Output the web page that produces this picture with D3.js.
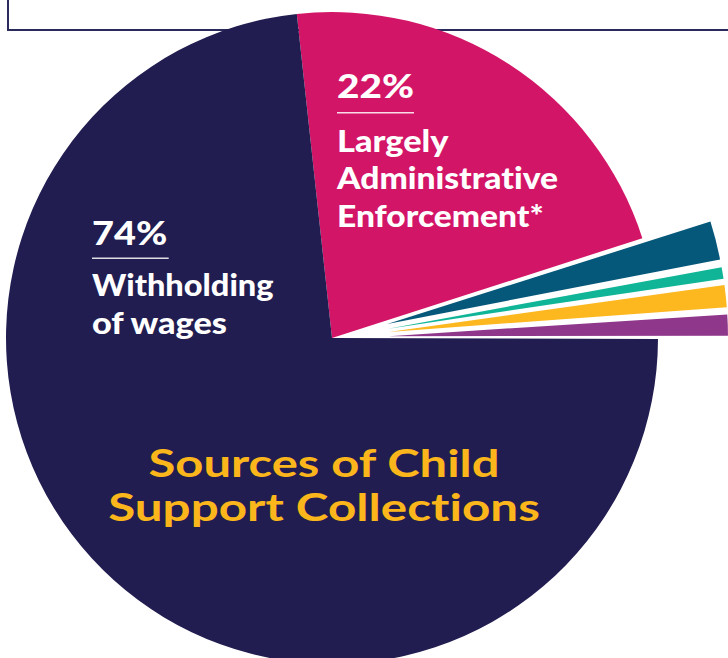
<!DOCTYPE html>
<html>
<head>
<meta charset="utf-8">
<script src="https://cdn.jsdelivr.net/npm/d3@7"></script>
<style>
  html, body { margin: 0; padding: 0; background: #ffffff; }
  svg { display: block; }
  text { font-family: Lato, "Noto Sans", sans-serif; font-weight: 900; font-variant-ligatures: none; font-feature-settings: "liga" 0, "clig" 0; }
  text.title { font-weight: 700; }
</style>
</head>
<body>
<svg id="chart" width="728" height="658"></svg>
<script>
// ---- data ----
const categories = ["Largely Administrative Enforcement*", "Other source A", "Other source B", "Other source C", "Other source D", "Withholding of wages"];
const shares = [22, 2.0, 0.7, 1.2, 1.15, 74];
const sliceColors = ["#d31567", "#06587a", "#10b598", "#fdb71f", "#8f378b", "#211d50"];
const pctLabels = ["22%", "74%"];
const labelLines = [["Largely", "Administrative", "Enforcement*"], ["Withholding", "of wages"]];
const titleLines = ["Sources of Child", "Support Collections"];

// ---- layout ----
const W = 728, H = 658;
const cx = 332, cy = 338, R = 326;
const smallR = 339, explode = 57, smallPad = 0.5 * Math.PI / 180;
const startDeg = -6.2;

const svg = d3.select("#chart");

// header box
svg.append("rect")
  .attr("x", 8).attr("y", -10).attr("width", W + 10).attr("height", 40)
  .attr("fill", "#ffffff").attr("stroke", "#2b2a5d").attr("stroke-width", 2);

const data = categories.map((c, i) => ({ name: c, value: shares[i], color: sliceColors[i] }));
const pie = d3.pie().sort(null).value(d => d.value)
  .startAngle(startDeg * Math.PI / 180)
  .endAngle(startDeg * Math.PI / 180 + 2 * Math.PI);
const arcs = pie(data);

const mainArc = d3.arc().innerRadius(0).outerRadius(R);
const smallArc = d3.arc().innerRadius(0).outerRadius(smallR);

const g = svg.append("g");
const mainIdx = [0, arcs.length - 1];
g.selectAll("path.main")
  .data(arcs.filter((d, i) => mainIdx.includes(i)))
  .join("path")
  .attr("class", "main")
  .attr("transform", `translate(${cx},${cy})`)
  .attr("d", mainArc)
  .attr("fill", d => d.data.color);

g.selectAll("path.small")
  .data(arcs.filter((d, i) => !mainIdx.includes(i)))
  .join("path")
  .attr("class", "small")
  .attr("transform", d => {
    const mid = (d.startAngle + d.endAngle) / 2;
    return `translate(${cx + explode * Math.sin(mid)},${cy - explode * Math.cos(mid)})`;
  })
  .attr("d", d => smallArc({ startAngle: d.startAngle + smallPad / 2, endAngle: d.endAngle - smallPad / 2 }))
  .attr("fill", d => d.data.color);

function fitText(sel, str, x, y, size, width, anchor, fill, cls) {
  const t = sel.append("text")
    .attr("class", cls || null)
    .attr("x", x).attr("y", y)
    .attr("font-size", size)
    .attr("fill", fill)
    .attr("text-anchor", anchor || "start")
    .text(str);
  if (width) t.attr("textLength", width).attr("lengthAdjust", "spacingAndGlyphs");
  return t;
}

const labels = svg.append("g");
fitText(labels, pctLabels[0], 337, 98, 32, 77, "start", "#ffffff");
labels.append("line").attr("x1", 337).attr("x2", 414).attr("y1", 112.7).attr("y2", 112.7)
  .attr("stroke", "#ffffff").attr("stroke-opacity", 0.85).attr("stroke-width", 1.5);
const pinkW = [111.6, 221, 206.7];
const pinkY = [151.7, 188.8, 226.7];
labelLines[0].forEach((s, i) => fitText(labels, s, 337, pinkY[i], 29.5, pinkW[i], "start", "#ffffff"));

fitText(labels, pctLabels[1], 92, 245, 32, 75.3, "start", "#ffffff");
labels.append("line").attr("x1", 92).attr("x2", 168.7).attr("y1", 258.3).attr("y2", 258.3)
  .attr("stroke", "#ffffff").attr("stroke-opacity", 0.85).attr("stroke-width", 1.5);
const navyW = [181.6, 135];
const navyY = [295.7, 334];
labelLines[1].forEach((s, i) => fitText(labels, s, 92, navyY[i], 29.5, navyW[i], "start", "#ffffff"));

const titleW = [351, 431.7];
const titleY = [476.7, 521.2];
titleLines.forEach((s, i) => fitText(labels, s, 324, titleY[i], 38, titleW[i], "middle", "#fbb61c", "title"));
</script>
</body>
</html>
